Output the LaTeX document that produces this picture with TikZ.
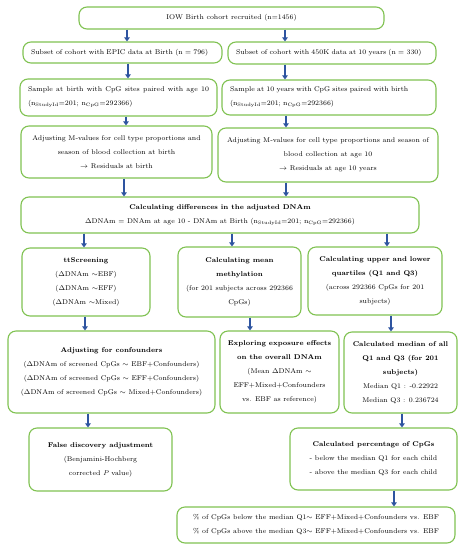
\documentclass[tikz,border=0pt]{standalone}
\usetikzlibrary{arrows.meta}
\definecolor{boxgreen}{RGB}{128,194,82}
\definecolor{arrblue}{RGB}{46,84,160}

\begin{document}
\begin{tikzpicture}[x=1pt,y=-1pt,
  box/.style={draw=boxgreen,line width=1.1pt,rounded corners=8pt,align=center,
    font=\fontsize{6.9}{14}\selectfont,inner sep=2pt},
  lbox/.style={box,align=left,inner xsep=8pt},
  arr/.style={draw=arrblue,line width=2pt,-{Triangle[length=4pt,width=5.5pt]}}]
\useasboundingbox (0,0) rectangle (463,550);
% cohort and subsets
\node[box,minimum width=305pt,minimum height=22pt] (iow) at (231.5,18)
  {IOW Birth cohort recruited (n=1456)};
\node[lbox,text width=183pt,minimum height=21pt] (epic) at (122.5,52.5)
  {Subset of cohort with EPIC data at Birth (n = 796)};
\node[lbox,text width=192pt,minimum height=22pt] (k450) at (332,53)
  {Subset of cohort with 450K data at 10 years (n = 330)};
\node[lbox,align=justify,text width=181pt,minimum height=37pt] (smpbirth) at (118.5,97.5)
  {Sample at birth with CpG sites paired with age 10 (n\textsubscript{StudyId}=201; n\textsubscript{CpG}=292366)};
\node[lbox,text width=198pt,minimum height=35pt] (smpten) at (329,97.5)
  {Sample at 10 years with CpG sites paired with birth\\(n\textsubscript{StudyId}=201; n\textsubscript{CpG}=292366)};
% adjusted values
\node[box,minimum width=191pt,minimum height=52pt] (adjbirth) at (116.5,152)
  {Adjusting M-values for cell type proportions and\\season of blood collection at birth\\$\rightarrow$ Residuals at birth};
\node[box,minimum width=220pt,minimum height=54pt] (adjten) at (328,155)
  {Adjusting M-values for cell type proportions and season of\\blood collection at age 10\\$\rightarrow$ Residuals at age 10 years};
\node[box,minimum width=398pt,minimum height=36pt] (diff) at (220,215)
  {\textbf{Calculating differences in the adjusted DNAm}\\$\Delta$DNAm = DNAm at age 10 - DNAm at Birth (n\textsubscript{StudyId}=201; n\textsubscript{CpG}=292366)};
% three branches
\node[box,minimum width=128pt,minimum height=68pt] (tts) at (86,282)
  {\textbf{ttScreening}\\($\Delta$DNAm $\sim$EBF)\\($\Delta$DNAm $\sim$EFF)\\($\Delta$DNAm $\sim$Mixed)};
\node[box,minimum width=123pt,minimum height=70pt] (mean) at (239.5,282)
  {\textbf{Calculating mean}\\\textbf{methylation}\\(for 201 subjects across 292366\\CpGs)};
\node[box,minimum width=134pt,minimum height=68pt] (quart) at (375,281)
  {\textbf{Calculating upper and lower}\\\textbf{quartiles (Q1 and Q3)}\\(across 292366 CpGs for 201\\subjects)};
\node[box,minimum width=207pt,minimum height=82pt] (conf) at (111.5,372)
  {\textbf{Adjusting for confounders}\\($\Delta$DNAm of screened CpGs $\sim$ EBF+Confounders)\\($\Delta$DNAm of screened CpGs $\sim$ EFF+Confounders)\\($\Delta$DNAm of screened CpGs $\sim$ Mixed+Confounders)};
\node[box,minimum width=119pt,minimum height=82pt] (expl) at (279.5,372)
  {\textbf{Exploring exposure effects}\\\textbf{on the overall DNAm}\\(Mean $\Delta$DNAm $\sim$\\EFF+Mixed+Confounders\\vs. EBF as reference)};
\node[box,minimum width=113pt,minimum height=81pt] (median) at (400.5,372.5)
  {\textbf{Calculated median of all}\\\textbf{Q1 and Q3 (for 201}\\\textbf{subjects)}\\Median Q1 : -0.22922\\Median Q3 : 0.236724};
\node[box,minimum width=143pt,minimum height=63pt] (fdr) at (100.5,459.5)
  {\textbf{False discovery adjustment}\\(Benjamini-Hochberg\\corrected \textit{P} value)};
\node[box,minimum width=167pt,minimum height=62pt] (pct) at (373.5,459)
  {\textbf{Calculated percentage of CpGs}\\- below the median Q1 for each child\\- above the median Q3 for each child};
\node[box,minimum width=278pt,minimum height=36pt] (final) at (316,525)
  {\% of CpGs below the median Q1$\sim$ EFF+Mixed+Confounders vs. EBF\\\% of CpGs above the median Q3$\sim$ EFF+Mixed+Confounders vs. EBF};
% arrows
\draw[arr] (iow.south -| 127,0) -- (epic.north -| 127,0);
\draw[arr] (iow.south -| 285,0) -- (k450.north -| 285,0);
\draw[arr] (epic.south -| 128,0) -- (smpbirth.north -| 128,0);
\draw[arr] (k450.south -| 285,0) -- (smpten.north -| 285,0);
\draw[arr] (smpbirth.south -| 126,0) -- (adjbirth.north -| 126,0);
\draw[arr] (smpten.south -| 286,0) -- (adjten.north -| 286,0);
\draw[arr] (adjbirth.south -| 124,0) -- (diff.north -| 124,0);
\draw[arr] (adjten.south -| 286,0) -- (diff.north -| 286,0);
\draw[arr] (diff.south -| 84,0) -- (tts.north -| 84,0);
\draw[arr] (diff.south -| 232,0) -- (mean.north -| 232,0);
\draw[arr] (diff.south -| 387,0) -- (quart.north -| 387,0);
\draw[arr] (tts.south -| 85,0) -- (conf.north -| 85,0);
\draw[arr] (mean.south -| 250,0) -- (expl.north -| 250,0);
\draw[arr] (quart.south -| 391,0) -- (median.north -| 391,0);
\draw[arr] (conf.south -| 88,0) -- (fdr.north -| 88,0);
\draw[arr] (median.south -| 402,0) -- (pct.north -| 402,0);
\draw[arr] (pct.south -| 394,0) -- (final.north -| 394,0);
\end{tikzpicture}
\end{document}
